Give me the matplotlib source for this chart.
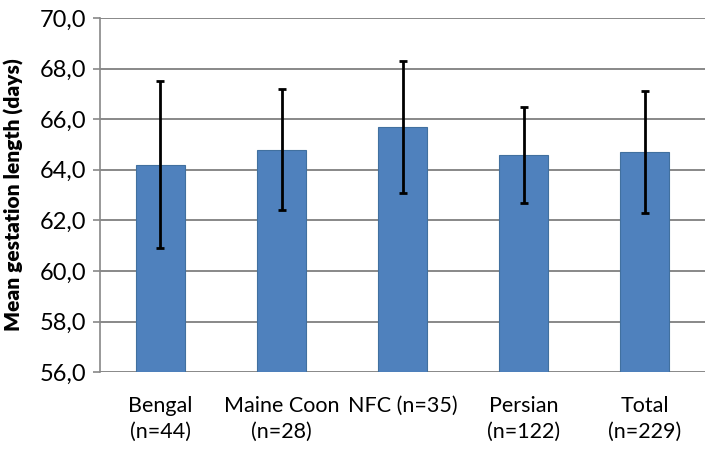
import matplotlib.pyplot as plt
import numpy as np

# breeds and mean gestation length with SD
breeds = ["Bengal\n(n=44)", "Maine Coon\n(n=28)", "NFC (n=35)", "Persian\n(n=122)", "Total\n(n=229)"]
means = [64.2, 64.8, 65.7, 64.6, 64.7]
sds = [3.3, 2.4, 2.6, 1.9, 2.4]
yticks = [56, 58, 60, 62, 64, 66, 68, 70]

plt.rcParams['font.family'] = ['Lato', 'DejaVu Sans']

fig = plt.figure(figsize=(7.12, 4.5), dpi=100)
ax = fig.add_axes([0.1404, 0.173, 0.850, 0.787])

x = np.arange(len(breeds))
ax.bar(x, np.array(means) - 56, bottom=56, width=0.4, color='#4f81bd', edgecolor='#41709f',
       linewidth=0.8, zorder=3)
ax.errorbar(x, means, yerr=sds, fmt='none', ecolor='black', elinewidth=2, capsize=3,
            capthick=2, zorder=4)

ax.set_ylim(56, 70)
ax.set_xlim(-0.5, len(breeds) - 0.5)
ax.set_yticks(yticks)
ax.set_yticklabels([f"{v:.1f}".replace('.', ',') for v in yticks], fontsize=17)
ax.set_xticks(x)
ax.set_xticklabels(breeds, fontsize=15.5, linespacing=1.35)
ax.tick_params(axis='x', length=0, pad=17)
ax.tick_params(axis='y', length=5, color='#888888', width=1.2, pad=5)
ax.yaxis.grid(True, color='#888888', linewidth=1.4, zorder=0)
for s in ['top', 'right', 'bottom']:
    ax.spines[s].set_visible(False)
ax.spines['left'].set_color('#888888')
ax.spines['left'].set_linewidth(1.2)
ax.set_ylabel("Mean gestation length (days)", fontsize=15, fontweight='heavy')
ax.yaxis.set_label_coords(-0.125, 0.5)

fig.savefig("out.png", dpi=100)
